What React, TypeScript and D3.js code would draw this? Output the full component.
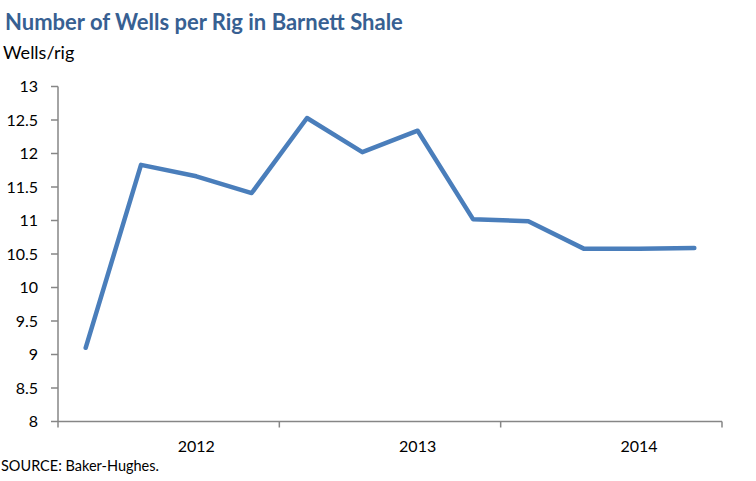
import React, { useEffect, useRef } from 'react';
import * as d3 from 'd3';

// quarterly observations, Q3 2011 .. Q2 2014
const quarters = ['2011Q3', '2011Q4', '2012Q1', '2012Q2', '2012Q3', '2012Q4', '2013Q1', '2013Q2', '2013Q3', '2013Q4', '2014Q1', '2014Q2'];
const wellsPerRig = [9.1, 11.83, 11.66, 11.41, 12.53, 12.02, 12.34, 11.02, 10.99, 10.58, 10.58, 10.59];
const yearLabels = ['2012', '2013', '2014'];
const yearLabelQuarters = ['2012Q1', '2013Q1', '2014Q1'];
const yTicks = [8, 8.5, 9, 9.5, 10, 10.5, 11, 11.5, 12, 12.5, 13];

const width = 756;
const height = 481;
const font = 'Lato, "Open Sans", sans-serif';

const App: React.FC = () => {
  const svgRef = useRef<SVGSVGElement>(null);

  useEffect(() => {
    if (!svgRef.current) return;
    const svg = d3.select(svgRef.current);
    svg.selectAll('*').remove();

    const margin = { top: 86.5, right: 34, bottom: 59.5, left: 58 };
    const innerW = width - margin.left - margin.right;
    const innerH = height - margin.top - margin.bottom;

    const x = d3.scaleBand<string>().domain(quarters).range([0, innerW]);
    const y = d3.scaleLinear().domain([8, 13]).range([innerH, 0]);

    const g = svg.append('g').attr('transform', `translate(${margin.left},${margin.top})`);

    // title + unit label
    svg.append('text')
      .attr('x', 5).attr('y', 30)
      .style('font-family', font).style('font-size', '22px').style('font-weight', 'bold')
      .attr('fill', '#376092')
      .text('Number of Wells per Rig in Barnett Shale');

    svg.append('text')
      .attr('x', 3).attr('y', 59)
      .style('font-family', font).style('font-size', '18px')
      .attr('fill', '#000')
      .text('Wells/rig');

    // y axis
    const axisColor = '#868686';
    g.append('line')
      .attr('x1', 0).attr('x2', 0).attr('y1', 0).attr('y2', innerH)
      .attr('stroke', axisColor).attr('stroke-width', 1.5);
    yTicks.forEach((t) => {
      g.append('line')
        .attr('x1', -7).attr('x2', 0).attr('y1', y(t)).attr('y2', y(t))
        .attr('stroke', axisColor).attr('stroke-width', 1.5);
      g.append('text')
        .attr('x', -20).attr('y', y(t)).attr('dy', '0.35em')
        .attr('text-anchor', 'end')
        .style('font-family', font).style('font-size', '16px')
        .attr('fill', '#000')
        .text(String(t));
    });

    // x axis
    g.append('line')
      .attr('x1', 0).attr('x2', innerW).attr('y1', innerH).attr('y2', innerH)
      .attr('stroke', axisColor).attr('stroke-width', 1.5);
    [0, 4, 8, 12].forEach((i) => {
      const xx = i * x.step();
      g.append('line')
        .attr('x1', xx).attr('x2', xx).attr('y1', innerH).attr('y2', innerH + 6)
        .attr('stroke', axisColor).attr('stroke-width', 1.5);
    });
    yearLabelQuarters.forEach((q, i) => {
      g.append('text')
        .attr('x', (x(q) ?? 0) + x.bandwidth() / 2).attr('y', innerH + 30)
        .attr('text-anchor', 'middle')
        .style('font-family', font).style('font-size', '16px')
        .attr('fill', '#000')
        .text(yearLabels[i]);
    });

    // series line
    const line = d3.line<number>()
      .x((_, i) => (x(quarters[i]) ?? 0) + x.bandwidth() / 2)
      .y((d) => y(d));
    g.append('path')
      .datum(wellsPerRig)
      .attr('d', line)
      .attr('fill', 'none')
      .attr('stroke', '#4A7EBB')
      .attr('stroke-width', 4.5)
      .attr('stroke-linejoin', 'round')
      .attr('stroke-linecap', 'round');

    // source note
    svg.append('text')
      .attr('x', 1).attr('y', 471)
      .style('font-family', font).style('font-size', '14.5px')
      .attr('fill', '#000')
      .text('SOURCE: Baker-Hughes.');
  }, []);

  return (
    <div style={{ position: 'absolute', left: 0, top: 0 }}>
      <svg ref={svgRef} width={width} height={height} style={{ display: 'block', background: '#fff' }} />
    </div>
  );
};

export default App;
